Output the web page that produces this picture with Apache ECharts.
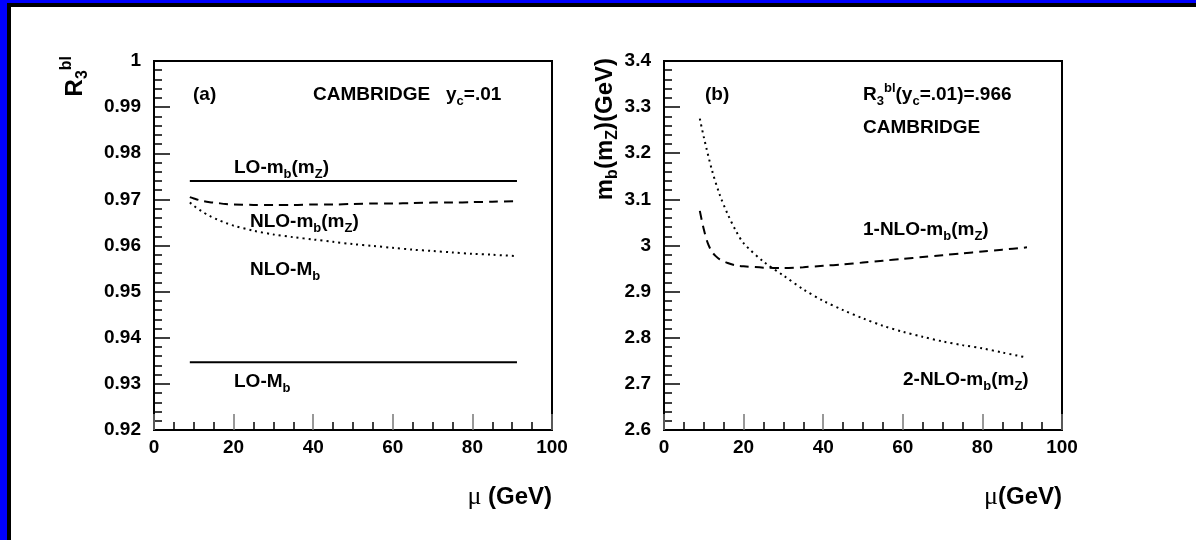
<!DOCTYPE html>
<html><head><meta charset="utf-8">
<script src="https://cdn.jsdelivr.net/npm/echarts@6/dist/echarts.min.js"></script>
<style>html,body{margin:0;padding:0;background:#fff}#c{width:1196px;height:540px}</style>
</head><body><div id="c"></div>
<script>
// ---- Panel (a): R3bl vs mu ----
const muEnds = [9, 91.2];
const loMbmZ = [0.974, 0.974];
const loMb = [0.9347, 0.9347];
const muA = [9,10,12,14,16,18,20,25,30,35,40,45,50,55,60,65,70,75,80,85,91.2];
const nloMbmZ = [0.9705,0.9702,0.9697,0.9694,0.9692,0.9690,0.9689,0.9688,0.9688,0.9688,0.9689,0.9689,0.9690,0.9691,0.9691,0.9692,0.9693,0.9693,0.9694,0.9695,0.9696];
const nloMb = [0.9693,0.9686,0.9674,0.9664,0.9656,0.9649,0.9643,0.9632,0.9624,0.9618,0.9613,0.9608,0.9603,0.9599,0.9595,0.9591,0.9588,0.9585,0.9582,0.9580,0.9577];
// ---- Panel (b): mb(mZ) vs mu ----
const muB1 = [9,10,11,12,13,14,16,18,20,25,30,35,40,45,50,55,60,65,70,75,80,85,91.2];
const nlo1 = [3.075,3.035,3.005,2.987,2.977,2.970,2.962,2.957,2.955,2.952,2.951,2.953,2.956,2.959,2.963,2.967,2.971,2.975,2.979,2.983,2.987,2.991,2.996];
const muB2 = [9,10,12,14,16,18,20,25,30,35,40,45,50,55,60,65,70,75,80,85,91.2];
const nlo2 = [3.275,3.235,3.165,3.110,3.068,3.033,3.005,2.965,2.935,2.905,2.880,2.860,2.842,2.826,2.813,2.802,2.792,2.784,2.777,2.768,2.757];

const FONT = 'Liberation Sans';
const pairs = (xs, ys) => xs.map((x, i) => [x, ys[i]]);

function xAxis(gi) {
  return {
    type: 'value', gridIndex: gi, min: 0, max: 100, interval: 20,
    axisLine: {show: true, lineStyle: {color: '#000', width: 2}},
    axisTick: {show: true, inside: true, length: 16, lineStyle: {color: '#777', width: 1.5}},
    minorTick: {show: true, splitNumber: 4, length: 8, lineStyle: {color: '#000', width: 1.5}},
    splitLine: {show: false},
    axisLabel: {color: '#000', fontFamily: FONT, fontWeight: 'bold', fontSize: 19, margin: 8}
  };
}
function yAxis(gi, min, max, iv, dec) {
  return {
    type: 'value', gridIndex: gi, min: min, max: max, interval: iv,
    axisLine: {show: true, lineStyle: {color: '#000', width: 2}},
    axisTick: {show: true, inside: true, length: 16, lineStyle: {color: '#000', width: 1.5}},
    minorTick: {show: true, splitNumber: 5, length: 8, lineStyle: {color: '#000', width: 1.5}},
    splitLine: {show: false},
    axisLabel: {color: '#000', fontFamily: FONT, fontWeight: 'bold', fontSize: 19, margin: 13,
      formatter: v => String(Number(v.toFixed(dec)))}
  };
}
function line(xi, data, type) {
  const ls = {color: '#000', width: 2, type: 'solid'};
  if (type === 'dashed') { ls.type = [9, 6]; }
  if (type === 'dotted') { ls.type = [2, 4]; }
  return {type: 'line', xAxisIndex: xi, yAxisIndex: xi, data: data, showSymbol: false, symbol: 'none',
    smooth: 0.3, lineStyle: ls, silent: true, animation: false};
}

const RICH = {
  n: {fontFamily: FONT, fontWeight: 'bold', fontSize: 19, lineHeight: 26, fill: '#000'},
  s: {fontFamily: FONT, fontWeight: 'bold', fontSize: 13, lineHeight: 13, verticalAlign: 'bottom', fill: '#000'},
  p: {fontFamily: FONT, fontWeight: 'bold', fontSize: 13, lineHeight: 13, verticalAlign: 'top', fill: '#000'},
  N: {fontFamily: FONT, fontWeight: 'bold', fontSize: 24, lineHeight: 32, fill: '#000'},
  S: {fontFamily: FONT, fontWeight: 'bold', fontSize: 16, lineHeight: 16, verticalAlign: 'bottom', fill: '#000'},
  P: {fontFamily: FONT, fontWeight: 'bold', fontSize: 16, lineHeight: 16, verticalAlign: 'top', fill: '#000'},
  mu: {fontFamily: 'Liberation Serif', fontWeight: 'normal', fontSize: 26, lineHeight: 32, fill: '#000'}
};
function txt(x, y, text, opt) {
  opt = opt || {};
  return {type: 'text', x: x, y: y, rotation: opt.rot || 0, z: 100,
    style: {text: text, rich: RICH, fill: '#000', font: 'bold 19px "Liberation Sans"',
      align: opt.align || 'left', verticalAlign: 'middle'}};
}

const chart = echarts.init(document.getElementById('c'), null, {renderer: 'canvas'});
chart.setOption({
  animation: false,
  backgroundColor: '#fff',
  grid: [
    {left: 154, top: 61, width: 398, height: 369, show: true, borderColor: '#000', borderWidth: 2},
    {left: 664, top: 61, width: 398, height: 369, show: true, borderColor: '#000', borderWidth: 2}
  ],
  xAxis: [xAxis(0), xAxis(1)],
  yAxis: [yAxis(0, 0.92, 1, 0.01, 2), yAxis(1, 2.6, 3.4, 0.1, 1)],
  series: [
    line(0, pairs(muEnds, loMbmZ), 'solid'),
    line(0, pairs(muEnds, loMb), 'solid'),
    line(0, pairs(muA, nloMbmZ), 'dashed'),
    line(0, pairs(muA, nloMb), 'dotted'),
    line(1, pairs(muB1, nlo1), 'dashed'),
    line(1, pairs(muB2, nlo2), 'dotted')
  ],
  graphic: [
    {type: 'rect', shape: {x: 0, y: 0, width: 1196, height: 3}, style: {fill: '#0000ff'}},
    {type: 'rect', shape: {x: 0, y: 0, width: 7, height: 540}, style: {fill: '#0000ff'}},
    {type: 'rect', shape: {x: 7, y: 3, width: 1189, height: 4}, style: {fill: '#000'}},
    {type: 'rect', shape: {x: 7, y: 3, width: 4, height: 537}, style: {fill: '#000'}},
    // axis titles
    txt(75, 56, '{N|R}{S|3}{P|bl}', {rot: Math.PI / 2, align: 'right'}),
    txt(605, 58, '{N|m}{S|b}{N|(m}{S|Z}{N|)(GeV)}', {rot: Math.PI / 2, align: 'right'}),
    txt(552, 497, '{mu|μ}{N| (GeV)}', {align: 'right'}),
    txt(1062, 497, '{mu|μ}{N|(GeV)}', {align: 'right'}),
    // panel (a) labels
    txt(193, 95, '{n|(a)}'),
    txt(313, 95, '{n|CAMBRIDGE   y}{s|c}{n|=.01}'),
    txt(234, 168, '{n|LO-m}{s|b}{n|(m}{s|Z}{n|)}'),
    txt(250, 222, '{n|NLO-m}{s|b}{n|(m}{s|Z}{n|)}'),
    txt(250, 270, '{n|NLO-M}{s|b}'),
    txt(234, 382, '{n|LO-M}{s|b}'),
    // panel (b) labels
    txt(705, 95, '{n|(b)}'),
    txt(863, 95, '{n|R}{s|3}{p|bl}{n|(y}{s|c}{n|=.01)=.966}'),
    txt(863, 128, '{n|CAMBRIDGE}'),
    txt(863, 230, '{n|1-NLO-m}{s|b}{n|(m}{s|Z}{n|)}'),
    txt(903, 380, '{n|2-NLO-m}{s|b}{n|(m}{s|Z}{n|)}')
  ]
});
</script></body></html>
